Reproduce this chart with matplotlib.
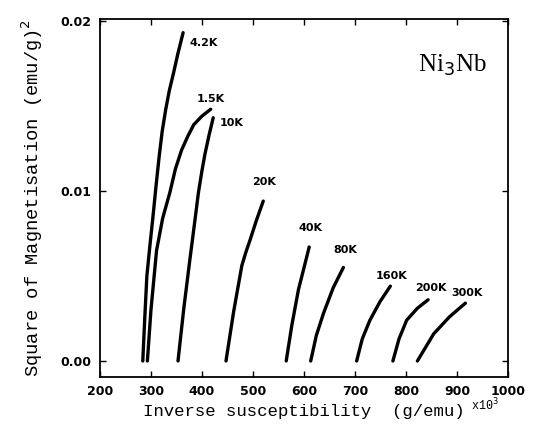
import matplotlib.pyplot as plt

# data (x in units of 10^3 g/emu)
x_42 = [284, 288, 292, 298, 304, 310, 316, 322, 329, 336, 344, 353, 363]
y_42 = [0.0, 0.0026, 0.0050, 0.0068, 0.0085, 0.0103, 0.0120, 0.0135, 0.0148, 0.0159, 0.0169, 0.0181, 0.0193]
x_15 = [293, 300, 311, 323, 337, 348, 360, 372, 384, 400, 417]
y_15 = [0.0, 0.0030, 0.0065, 0.0084, 0.0099, 0.0113, 0.0124, 0.0132, 0.0139, 0.0144, 0.0148]
x_10 = [353, 364, 376, 385, 393, 400, 406, 414, 422]
y_10 = [0.0, 0.0030, 0.0059, 0.0080, 0.0099, 0.0112, 0.0122, 0.0133, 0.0143]
x_20 = [447, 462, 478, 486, 494, 507, 520]
y_20 = [0.0, 0.0029, 0.0056, 0.0064, 0.0071, 0.0083, 0.0094]
x_40 = [565, 576, 589, 600, 610]
y_40 = [0.0, 0.0021, 0.0042, 0.0055, 0.0067]
x_80 = [613, 624, 638, 657, 677]
y_80 = [0.0, 0.0015, 0.0028, 0.0043, 0.0055]
x_160 = [703, 714, 729, 749, 769]
y_160 = [0.0, 0.0013, 0.0024, 0.0035, 0.0044]
x_200 = [774, 786, 801, 822, 843]
y_200 = [0.0, 0.0013, 0.0024, 0.0031, 0.0036]
x_300 = [822, 838, 854, 885, 916]
y_300 = [0.0, 0.0008, 0.0016, 0.0026, 0.0034]

curves = [x_42, x_15, x_10, x_20, x_40, x_80, x_160, x_200, x_300]
values = [y_42, y_15, y_10, y_20, y_40, y_80, y_160, y_200, y_300]
temps = ['4.2K', '1.5K', '10K', '20K', '40K', '80K', '160K', '200K', '300K']
label_x = [376, 389, 435, 498, 589, 657, 740, 817, 889]
label_y = [0.0187, 0.0154, 0.0140, 0.0105, 0.0078, 0.0065, 0.0050, 0.0043, 0.0040]

fig = plt.figure(figsize=(5.43, 4.34), dpi=100)
ax = fig.add_axes([0.184, 0.131, 0.752, 0.825])

for xs, ys in zip(curves, values):
    ax.plot(xs, ys, color='black', linewidth=2.4, solid_capstyle='round')

for t, lx, ly in zip(temps, label_x, label_y):
    ax.text(lx, ly, t, fontsize=8, fontweight='bold', family='DejaVu Sans',
            ha='left', va='center')

ax.text(824, 0.0174, r'Ni$_3$Nb', fontsize=18, family='Liberation Serif',
        ha='left', va='center')

ax.set_xlim(200, 1000)
ax.set_ylim(-0.00095, 0.0201)
ax.set_xticks([200, 300, 400, 500, 600, 700, 800, 900, 1000])
ax.set_yticks([0.0, 0.01, 0.02])
ax.set_yticklabels(['0.00', '0.01', '0.02'])
ax.tick_params(direction='in', top=True, right=True, length=4, width=1,
               labelsize=9, pad=6)
for lab in ax.get_xticklabels() + ax.get_yticklabels():
    lab.set_fontweight('bold')

for s in ax.spines.values():
    s.set_linewidth(1.3)

ax.set_xlabel('Inverse susceptibility  (g/emu)', family='Liberation Mono',
              fontsize=12.5, labelpad=4)
ax.set_ylabel(r'Square of Magnetisation (emu/g)$^2$', family='Liberation Mono',
              fontsize=13.5, labelpad=11)
fig.text(0.868, 0.054, r'x10$^3$', fontsize=8.5, family='Liberation Mono')

fig.savefig('out.png', dpi=100)
